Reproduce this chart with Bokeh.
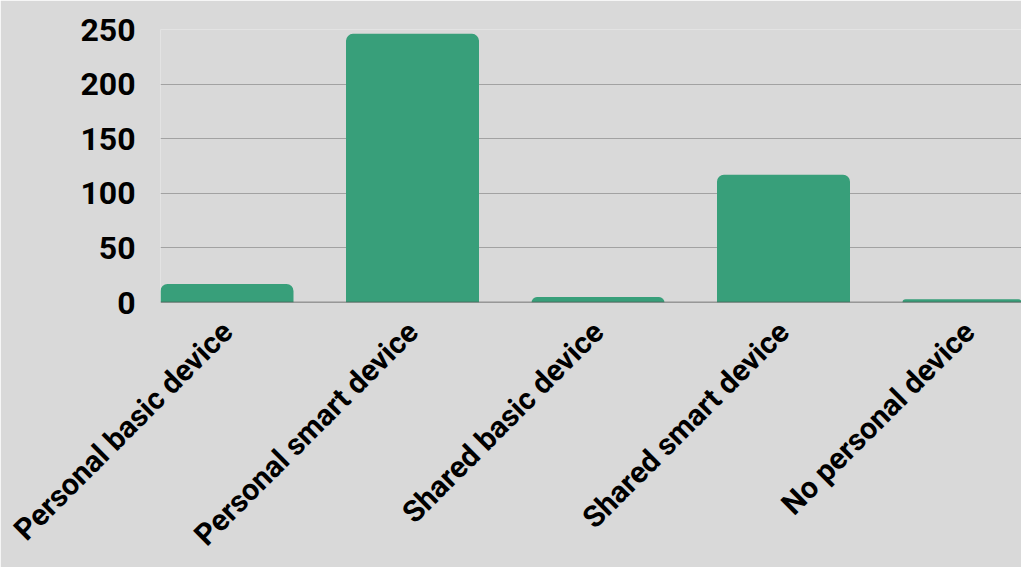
import math
from bokeh.plotting import figure
from bokeh.models import Range1d, FixedTicker, Span, ColumnDataSource
from bokeh.embed import file_html
from bokeh.resources import INLINE

categories = ["Personal basic device", "Personal smart device", "Shared basic device",
              "Shared smart device", "No personal device"]
counts = [17, 246, 5, 117, 3]
y_ticks = [0, 50, 100, 150, 200, 250]

xs = list(range(len(categories)))
src = ColumnDataSource(dict(x=xs, top=counts))

BG = "#d9d9d9"
p = figure(width=1021, height=567, output_backend="svg", toolbar_location=None,
           x_range=Range1d(-0.3585, 4.283), y_range=Range1d(0, 250),
           min_border_left=160, min_border_right=0, min_border_top=29, min_border_bottom=265,
           background_fill_color=BG, border_fill_color=BG, outline_line_color=None)

p.add_layout(Span(location=0, dimension="width", line_color="#4d4d4d", line_width=1.6, level="glyph"))

p.vbar(x="x", top="top", width=0.717, source=src, color="#389f7a", line_color=None,
       border_radius=(7, 7, 0, 0))

p.xgrid.grid_line_color = None
p.ygrid.ticker = FixedTicker(ticks=[t for t in y_ticks if t > 0])
p.ygrid.grid_line_color = "#a2a2a2"
p.ygrid.grid_line_width = 1.2

p.yaxis.ticker = FixedTicker(ticks=y_ticks)
p.yaxis.axis_line_color = None
p.yaxis.major_tick_line_color = None
p.yaxis.minor_tick_line_color = None
p.yaxis.major_tick_out = 0
p.yaxis.major_label_standoff = 25
p.yaxis.major_label_text_font = "Roboto"
p.yaxis.major_label_text_font_style = "bold"
p.yaxis.major_label_text_font_size = "32px"
p.yaxis.major_label_text_color = "#000000"

p.xaxis.ticker = FixedTicker(ticks=xs)
p.xaxis.major_label_overrides = {i: c for i, c in enumerate(categories)}
p.xaxis.axis_line_color = None
p.xaxis.major_tick_line_color = None
p.xaxis.minor_tick_line_color = None
p.xaxis.major_tick_out = 0
p.xaxis.major_tick_in = 0
p.xaxis.major_label_orientation = math.pi / 4
p.xaxis.major_label_standoff = 24
p.xaxis.major_label_text_font = "Roboto"
p.xaxis.major_label_text_font_style = "bold"
p.xaxis.major_label_text_font_size = "30px"
p.xaxis.major_label_text_color = "#000000"

open("out.html", "w").write(file_html(p, INLINE))
